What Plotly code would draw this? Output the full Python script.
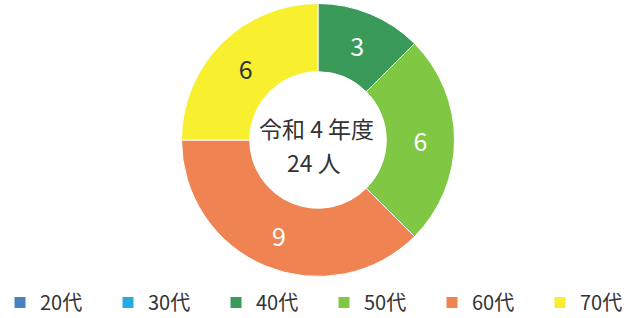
import plotly.graph_objects as go

labels = ["20代", "30代", "40代", "50代", "60代", "70代"]
values = [0, 0, 3, 6, 9, 6]
colors = ["#4a82c0", "#2aaae2", "#3a9a5a", "#80c843", "#ef8452", "#f8f02e"]
label_colors = ["white", "white", "white", "white", "white", "#333333"]
center_line1 = "令和 4 年度"
center_line2 = "24 人"

# the page viewport is 635 px wide; the figure is a bit wider so the
# one-row legend keeps the reference spacing (overflow is hidden)
W, H = 660, 318
font_family = "Noto Sans CJK JP, Noto Sans, sans-serif"

fig = go.Figure(go.Pie(
    labels=labels,
    values=values,
    hole=0.5,
    sort=False,
    direction="clockwise",
    rotation=0,
    marker=dict(colors=colors, line=dict(color="white", width=1)),
    texttemplate=["" if v == 0 else "%{value}" for v in values],
    textposition="inside",
    insidetextorientation="horizontal",
    textfont=dict(color=label_colors, size=25, family=font_family),
    domain=dict(x=[181.5 / W, 454.5 / W], y=[1 - 276.5 / H, 1 - 3.5 / H]),
    showlegend=True,
    hoverinfo="label+value",
))

fig.add_annotation(
    text=center_line1,
    x=316 / W, y=1 - 128 / H, xref="paper", yref="paper", yanchor="middle",
    showarrow=False,
    font=dict(size=23, color="#333333", family=font_family),
)
fig.add_annotation(
    text=center_line2,
    x=314 / W, y=1 - 162 / H, xref="paper", yref="paper", yanchor="middle",
    showarrow=False,
    font=dict(size=23, color="#333333", family=font_family),
)

fig.update_layout(
    width=W, height=H,
    margin=dict(l=0, r=0, t=0, b=0, autoexpand=False),
    paper_bgcolor="white",
    plot_bgcolor="white",
    font=dict(family=font_family, color="#333333"),
    legend=dict(
        orientation="h",
        x=0, xanchor="left",
        y=1 - 302.5 / H, yanchor="middle",
        entrywidth=63, entrywidthmode="pixels",
        font=dict(size=20, color="#333333", family=font_family),
        traceorder="normal",
        bgcolor="rgba(0,0,0,0)",
    ),
)

fig.write_html(
    "out.html",
    config={"displayModeBar": False},
    post_script="document.body.style.margin='0';document.body.style.overflow='hidden';",
)
